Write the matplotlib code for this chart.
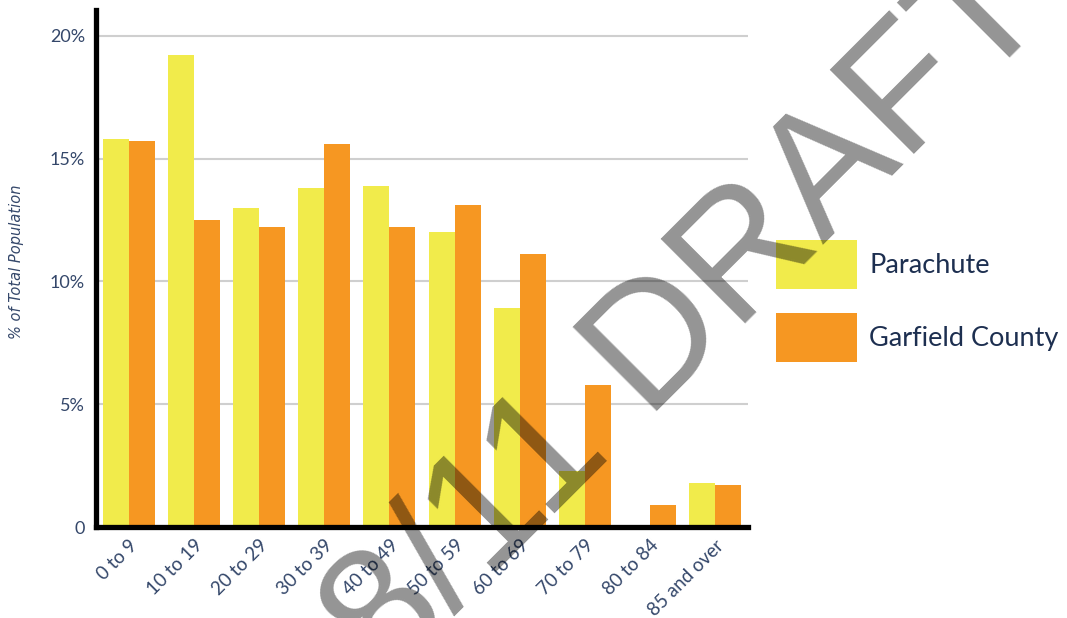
import numpy as np
import matplotlib
matplotlib.use("Agg")
import matplotlib.pyplot as plt
import matplotlib.transforms as mtransforms

age_groups = ["0 to 9", "10 to 19", "20 to 29", "30 to 39", "40 to 49",
              "50 to 59", "60 to 69", "70 to 79", "80 to 84", "85 and over"]
parachute = [15.8, 19.2, 13.0, 13.8, 13.9, 12.0, 8.9, 2.3, 0.0, 1.8]
garfield = [15.7, 12.5, 12.2, 15.6, 12.2, 13.1, 11.1, 5.8, 0.9, 1.7]
y_ticks = [0, 5, 10, 15, 20]
y_tick_labels = ["0", "5%", "10%", "15%", "20%"]

yellow = "#f1eb4b"
orange = "#f69722"
text_col = "#34476a"
legend_col = "#1d2f50"

plt.rcParams["font.family"] = ["Lato", "DejaVu Sans"]

fig = plt.figure(figsize=(10.67, 6.18), dpi=100)
ax = fig.add_axes([96 / 1067, 1 - 527 / 618, (748 - 96) / 1067, (527 - 10) / 618])

x = np.arange(len(age_groups))
w = 0.4
ax.bar(x - w / 2, parachute, width=w, color=yellow, label="Parachute", zorder=2)
ax.bar(x + w / 2, garfield, width=w, color=orange, label="Garfield County", zorder=2)

ax.set_xlim(-0.5, len(age_groups) - 0.5)
ax.set_ylim(0, 21.05)
ax.set_yticks(y_ticks)
ax.set_yticklabels(y_tick_labels, fontsize=13, color=text_col)
ax.yaxis.grid(True, color="#cfcfcf", linewidth=1.5)
ax.set_axisbelow(True)

ax.set_xticks(x)
ax.set_xticklabels(age_groups, fontsize=13.5, color=text_col, rotation=45,
                   ha="right", va="top", rotation_mode="anchor")
shift = mtransforms.ScaledTranslation(11 / 100, 0, fig.dpi_scale_trans)
for lbl in ax.get_xticklabels():
    lbl.set_transform(lbl.get_transform() + shift)

ax.tick_params(axis="both", length=0)
ax.tick_params(axis="y", pad=8)
ax.tick_params(axis="x", pad=7)

for side in ["top", "right"]:
    ax.spines[side].set_visible(False)
for side in ["left", "bottom"]:
    ax.spines[side].set_linewidth(3.8)
    ax.spines[side].set_color("black")
    ax.spines[side].set_zorder(3)

fig.text(17 / 1067, 1 - 262 / 618, "% of Total Population", rotation=90,
         fontsize=10.5, style="italic", color=text_col, ha="center", va="center",
         family="DejaVu Sans")

fig.legend(loc="upper left", bbox_to_anchor=(776 / 1067, 1 - 240 / 618),
           frameon=False, borderpad=0, borderaxespad=0, fontsize=19.5,
           handlelength=3.0, handleheight=2.41, handletextpad=0.44,
           labelspacing=0.89, labelcolor=legend_col)

# diagonal draft stamp across the whole figure
fig.text(688 / 1067, 1 - 317 / 618, "8/11 DRAFT", rotation=45, fontsize=124,
         color="black", alpha=0.42, ha="center", va="center", zorder=10,
         family="Liberation Sans")

fig.savefig("out.png", dpi=100)
